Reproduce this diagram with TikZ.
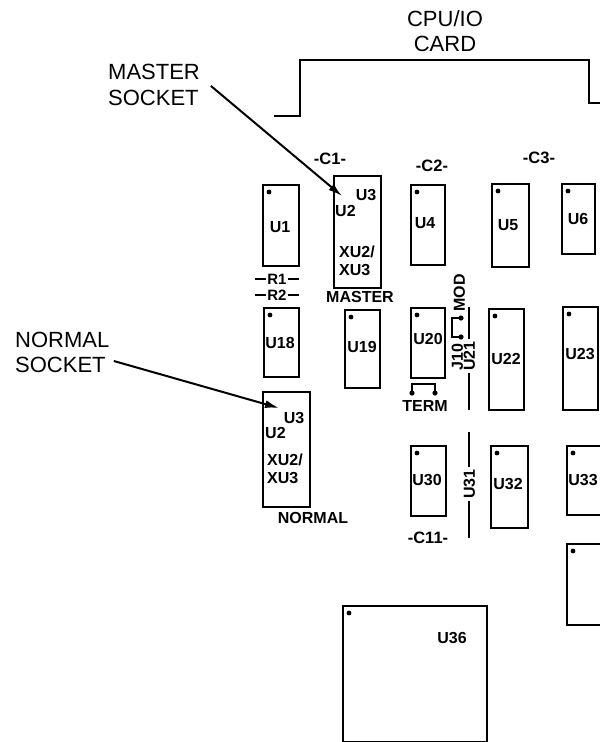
\documentclass[tikz,border=0pt]{standalone}
\usepackage{fontspec}
\setmainfont{Liberation Sans}
\usetikzlibrary{arrows.meta}
\tikzset{
  chip/.style={draw, line width=1.8pt, inner sep=0pt, anchor=north west},
  lab/.style={font=\fontsize{16}{16}\selectfont\bfseries, inner sep=0pt, text height=11.5pt, text depth=0pt},
  sml/.style={font=\fontsize{15}{15}\selectfont\bfseries, inner sep=0pt, text height=10.7pt, text depth=0pt},
  col/.style={font=\fontsize{16.5}{16.5}\selectfont\bfseries, inner sep=0pt, text height=11.8pt, text depth=0pt},
  big/.style={font=\fontsize{22}{22}\selectfont, inner sep=0pt, text height=15.8pt, text depth=0pt},
  wire/.style={line width=1.6pt},
  pointer/.style={line width=2pt, -{Latex[length=14pt,width=8pt]}},
  pin/.style={fill=black},
}
\begin{document}
\begin{tikzpicture}[x=1pt,y=-1pt]
\useasboundingbox (0,0) rectangle (600,742);
\clip (0,0) rectangle (600,742);
% card outline
\coordinate (cardL) at (274,116);
\coordinate (cardR) at (600,103);
\draw[wire] (cardL) -- (300,116) -- (300,60) -- (589,60) -- (589,103) -- (cardR);
\node[big] (cpu) at (445,19) {CPU/IO};
\node[big] (card) at (445,44) {CARD};
% left labels
\node[big, anchor=west] (mst) at (108,72) {MASTER};
\node[big, anchor=west] (mso) at (108,98) {SOCKET};
\node[big, anchor=west] (nrm) at (15,340) {NORMAL};
\node[big, anchor=west] (nso) at (15,365) {SOCKET};
% column labels
\node[col] (c1) at (330,159) {-C1-};
\node[col] (c2) at (432,166) {-C2-};
\node[col] (c3) at (539,158) {-C3-};
\node[col] (c11) at (428,538) {-C11-};
% chips
\node[chip, minimum width=36pt, minimum height=81pt] (u1) at (262,184) {};
\node[chip, minimum width=47pt, minimum height=112pt] (xm) at (333,175) {};
\node[chip, minimum width=34pt, minimum height=80pt] (u4) at (410,184) {};
\node[chip, minimum width=37pt, minimum height=83pt] (u5) at (491,183) {};
\node[chip, minimum width=33pt, minimum height=70pt] (u6) at (561,183) {};
\node[chip, minimum width=35pt, minimum height=69pt] (u18) at (263,307) {};
\node[chip, minimum width=35pt, minimum height=78pt] (u19) at (344,309) {};
\node[chip, minimum width=34pt, minimum height=70pt] (u20) at (410,307) {};
\node[chip, minimum width=35pt, minimum height=101pt] (u22) at (488,308) {};
\node[chip, minimum width=35pt, minimum height=103pt] (u23) at (562,306) {};
\node[chip, minimum width=47pt, minimum height=115pt] (xn) at (262,391) {};
\node[chip, minimum width=35pt, minimum height=70pt] (u30) at (410,445) {};
\node[chip, minimum width=37pt, minimum height=82pt] (u32) at (490,445) {};
\node[chip, minimum width=40pt, minimum height=69pt] (u33) at (566,445) {};
\node[chip, minimum width=40pt, minimum height=81pt] (u34) at (566,543) {};
\node[chip, minimum width=144pt, minimum height=136pt] (u36) at (342,605) {};
% pin-1 dots
\foreach \c in {u1,u4,u5,u6,u18,u19,u20,u22,u23,u30,u32,u33,u34,u36}
  \fill[pin] (\c.north west) ++(7,8) circle (2.4pt);
% chip labels
\node[lab] (lu1) at (280,227) {U1};
\node[lab] (lu4) at (425,223) {U4};
\node[lab] (lu5) at (508,225) {U5};
\node[lab] (lu6) at (578,219) {U6};
\node[lab] (lu18) at (280,343) {U18};
\node[lab] (lu19) at (362,347) {U19};
\node[lab] (lu20) at (428,339) {U20};
\node[lab] (lu22) at (506,359) {U22};
\node[lab] (lu23) at (580,354) {U23};
\node[lab] (lu30) at (427,480) {U30};
\node[lab] (lu32) at (508,484) {U32};
\node[lab] (lu33) at (583,480) {U33};
\node[lab] (lu36) at (452,638) {U36};
% master socket texts
\node[lab] (mu3) at (366,195) {U3};
\node[lab, anchor=west] (mu2) at (335,211) {U2};
\node[lab, anchor=west] (mx2) at (339,252) {XU2/};
\node[lab, anchor=west] (mx3) at (339,270) {XU3};
\node[lab] (mlab) at (360,297) {MASTER};
% normal socket texts
\node[lab] (nu3) at (294,418) {U3};
\node[lab, anchor=west] (nu2) at (265,433) {U2};
\node[lab, anchor=west] (nx2) at (267,460) {XU2/};
\node[lab, anchor=west] (nx3) at (267,478) {XU3};
\node[lab] (nlab) at (313,518) {NORMAL};
% resistors
\node[sml] (r1) at (277,279) {R1};
\node[sml] (r2) at (277,295) {R2};
\foreach \r in {r1,r2} {
  \draw[line width=1.5pt] (\r.west) ++(-1.5,0) -- ++(-11,0);
  \draw[line width=1.5pt] (\r.east) ++(1.5,0) -- ++(11,0);
}
% jumper J10 / MOD
\node[lab, rotate=90] (mod) at (459,293) {MOD};
\node[lab, rotate=90] (j10) at (457,357) {J10};
\coordinate (ja) at (461,318);
\coordinate (jb) at (461,337);
\draw[wire] (ja) -- (452,318) -- (452,337) -- (jb);
\fill[pin] (ja) circle (2.6pt);
\fill[pin] (jb) circle (2.6pt);
% jumper TERM
\coordinate (ta) at (412,393);
\coordinate (tb) at (435,393);
\draw[wire] (ta) -- (412,384) -- (435,384) -- (tb);
\fill[pin] (ta) circle (2.6pt);
\fill[pin] (tb) circle (2.6pt);
\node[lab] (term) at (425,406) {TERM};
% U21 and U31 outline lines
\node[lab, rotate=90, inner sep=2pt] (u21) at (469,356) {U21};
\coordinate (u21t) at (469,307);
\coordinate (u21b) at (469,410);
\draw[line width=1.5pt] (u21t) -- (u21.east);
\draw[line width=1.5pt] (u21.west) -- (u21b);
\node[lab, rotate=90, inner sep=2pt] (u31) at (469,484) {U31};
\coordinate (u31t) at (469,432);
\coordinate (u31b) at (469,538);
\draw[line width=1.5pt] (u31t) -- (u31.east);
\draw[line width=1.5pt] (u31.west) -- (u31b);
% pointers
\coordinate (mtip) at (342,196);
\coordinate (ntip) at (279,408);
\draw[pointer] (mso.north east) ++(12,-4) -- (mtip);
\draw[pointer] (nso.east) ++(8,-4) -- (ntip);
\end{tikzpicture}
\end{document}
